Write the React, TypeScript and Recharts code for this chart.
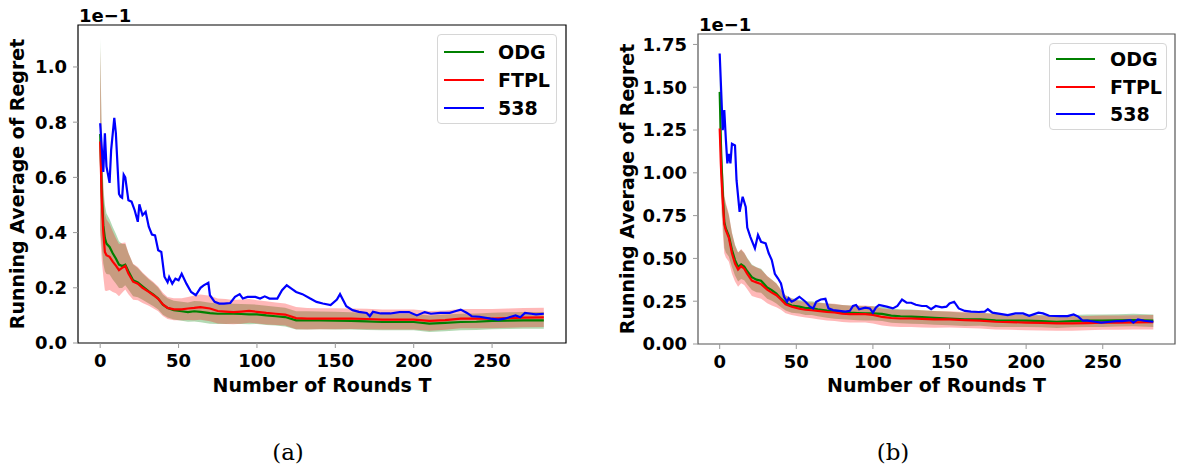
import React from 'react';
import { ComposedChart, Line, Area, XAxis, YAxis, ReferenceArea, Legend } from 'recharts';

// rounds used for the two smoothed methods (shared by both panels)
const bandRounds = [0, 1, 2, 3, 4, 6, 8, 10, 12, 14, 16, 18, 21, 24, 27, 31, 34, 37, 40, 43, 47, 52, 56, 60, 64, 70, 75, 80, 85, 90, 95, 100, 106, 112, 118, 125, 132, 140, 150, 160, 170, 180, 190, 200, 210, 220, 230, 240, 250, 260, 270, 283];

// panel (a)
const aOdg = [0.757, 0.547, 0.427, 0.38, 0.36, 0.348, 0.325, 0.306, 0.284, 0.279, 0.284, 0.26, 0.227, 0.219, 0.205, 0.187, 0.175, 0.161, 0.139, 0.127, 0.119, 0.115, 0.112, 0.115, 0.113, 0.108, 0.106, 0.106, 0.106, 0.105, 0.104, 0.104, 0.1, 0.097, 0.094, 0.082, 0.082, 0.082, 0.081, 0.08, 0.078, 0.076, 0.076, 0.076, 0.07, 0.073, 0.076, 0.077, 0.08, 0.081, 0.082, 0.082];
const aOdgSd = [0.345, 0.2, 0.14, 0.12, 0.11, 0.1, 0.095, 0.09, 0.085, 0.08, 0.075, 0.066, 0.058, 0.053, 0.048, 0.044, 0.042, 0.04, 0.037, 0.035, 0.034, 0.034, 0.035, 0.037, 0.038, 0.038, 0.037, 0.037, 0.036, 0.036, 0.036, 0.035, 0.035, 0.034, 0.034, 0.033, 0.033, 0.032, 0.032, 0.031, 0.031, 0.03, 0.03, 0.03, 0.03, 0.03, 0.03, 0.03, 0.03, 0.03, 0.03, 0.03];
const aFtpl = [0.73, 0.52, 0.4, 0.33, 0.318, 0.312, 0.295, 0.28, 0.264, 0.272, 0.279, 0.252, 0.222, 0.215, 0.2, 0.185, 0.173, 0.16, 0.14, 0.127, 0.122, 0.122, 0.125, 0.127, 0.13, 0.125, 0.116, 0.114, 0.112, 0.114, 0.116, 0.113, 0.109, 0.106, 0.103, 0.09, 0.088, 0.088, 0.088, 0.088, 0.087, 0.085, 0.085, 0.085, 0.08, 0.083, 0.088, 0.088, 0.088, 0.09, 0.092, 0.093];
const aFtplSd = [0.34, 0.22, 0.16, 0.14, 0.13, 0.12, 0.11, 0.1, 0.095, 0.09, 0.085, 0.075, 0.065, 0.06, 0.055, 0.05, 0.048, 0.045, 0.042, 0.04, 0.04, 0.04, 0.042, 0.045, 0.046, 0.046, 0.045, 0.045, 0.044, 0.044, 0.043, 0.042, 0.042, 0.041, 0.04, 0.04, 0.039, 0.038, 0.038, 0.037, 0.037, 0.036, 0.036, 0.036, 0.036, 0.035, 0.035, 0.035, 0.035, 0.035, 0.035, 0.035];
const a538Rounds = [0, 2, 3, 4, 6, 7, 9, 10, 12, 13, 14, 15, 16, 18, 20, 22, 24, 25, 27, 29, 31, 33, 35, 37, 39, 41, 43, 44, 46, 48, 50, 52, 55, 58, 61, 64, 66, 69, 70, 73, 76, 79, 83, 86, 89, 91, 94, 99, 102, 105, 108, 113, 116, 119, 122, 125, 129, 134, 138, 142, 147, 151, 153, 157, 161, 165, 170, 172, 174, 179, 185, 191, 197, 202, 207, 211, 217, 223, 227, 230, 234, 237, 242, 249, 254, 258, 262, 265, 268, 271, 275, 278, 283];
const a538 = [0.796, 0.62, 0.76, 0.64, 0.58, 0.7, 0.816, 0.76, 0.54, 0.53, 0.526, 0.61, 0.6, 0.517, 0.512, 0.481, 0.439, 0.502, 0.463, 0.475, 0.421, 0.393, 0.39, 0.336, 0.33, 0.24, 0.22, 0.239, 0.215, 0.233, 0.227, 0.251, 0.215, 0.185, 0.173, 0.2, 0.209, 0.218, 0.173, 0.149, 0.143, 0.143, 0.145, 0.167, 0.177, 0.161, 0.167, 0.167, 0.161, 0.169, 0.161, 0.161, 0.191, 0.209, 0.197, 0.185, 0.177, 0.161, 0.149, 0.143, 0.137, 0.157, 0.177, 0.133, 0.119, 0.113, 0.109, 0.097, 0.113, 0.107, 0.107, 0.112, 0.112, 0.1, 0.112, 0.106, 0.109, 0.109, 0.116, 0.121, 0.109, 0.097, 0.095, 0.088, 0.085, 0.088, 0.095, 0.1, 0.093, 0.109, 0.106, 0.104, 0.106];

// panel (b)
const bOdg = [1.473, 1.1, 0.88, 0.713, 0.675, 0.63, 0.55, 0.49, 0.45, 0.465, 0.452, 0.425, 0.39, 0.376, 0.37, 0.33, 0.315, 0.295, 0.265, 0.24, 0.225, 0.218, 0.21, 0.21, 0.203, 0.195, 0.19, 0.186, 0.183, 0.181, 0.179, 0.179, 0.176, 0.166, 0.162, 0.16, 0.157, 0.153, 0.149, 0.144, 0.144, 0.138, 0.136, 0.136, 0.134, 0.13, 0.134, 0.136, 0.136, 0.138, 0.14, 0.136];
const bOdgSd = [0.25, 0.2, 0.17, 0.15, 0.14, 0.12, 0.1, 0.09, 0.085, 0.085, 0.08, 0.078, 0.075, 0.073, 0.07, 0.066, 0.062, 0.058, 0.05, 0.045, 0.042, 0.04, 0.04, 0.04, 0.041, 0.042, 0.042, 0.042, 0.042, 0.042, 0.042, 0.042, 0.042, 0.042, 0.041, 0.041, 0.04, 0.04, 0.039, 0.039, 0.038, 0.038, 0.037, 0.037, 0.036, 0.036, 0.036, 0.036, 0.036, 0.036, 0.036, 0.036];
const bFtpl = [1.259, 1.0, 0.84, 0.7, 0.665, 0.62, 0.53, 0.47, 0.435, 0.455, 0.44, 0.41, 0.37, 0.36, 0.35, 0.318, 0.3, 0.285, 0.26, 0.232, 0.218, 0.206, 0.2, 0.197, 0.193, 0.187, 0.185, 0.178, 0.175, 0.175, 0.175, 0.17, 0.158, 0.152, 0.149, 0.149, 0.147, 0.144, 0.144, 0.14, 0.136, 0.13, 0.128, 0.125, 0.123, 0.12, 0.12, 0.122, 0.125, 0.125, 0.126, 0.127];
const bFtplSd = [0.2, 0.2, 0.19, 0.17, 0.16, 0.14, 0.12, 0.105, 0.1, 0.1, 0.095, 0.09, 0.09, 0.088, 0.085, 0.08, 0.075, 0.07, 0.06, 0.052, 0.048, 0.045, 0.045, 0.046, 0.048, 0.05, 0.05, 0.05, 0.05, 0.05, 0.05, 0.05, 0.05, 0.05, 0.05, 0.05, 0.05, 0.049, 0.048, 0.047, 0.046, 0.045, 0.045, 0.044, 0.044, 0.043, 0.043, 0.042, 0.042, 0.042, 0.042, 0.042];
const b538Rounds = [0, 2, 3, 4, 5, 6, 7, 8, 10, 11, 13, 15, 17, 18, 20, 23, 25, 27, 30, 32, 34, 36, 38, 40, 42, 44, 45, 47, 49, 52, 56, 59, 61, 63, 66, 69, 71, 74, 78, 82, 85, 87, 89, 91, 95, 98, 100, 102, 104, 109, 113, 116, 119, 122, 125, 128, 132, 135, 138, 141, 145, 148, 150, 153, 156, 160, 164, 169, 173, 175, 178, 184, 188, 193, 198, 202, 208, 211, 215, 222, 227, 231, 234, 237, 240, 245, 249, 255, 259, 263, 268, 270, 273, 277, 283];
const b538 = [1.697, 1.249, 1.366, 1.2, 1.055, 1.11, 1.055, 1.17, 1.16, 0.957, 0.772, 0.86, 0.8, 0.68, 0.626, 0.559, 0.637, 0.597, 0.588, 0.53, 0.49, 0.41, 0.384, 0.354, 0.276, 0.247, 0.267, 0.247, 0.257, 0.276, 0.247, 0.218, 0.208, 0.247, 0.26, 0.264, 0.208, 0.198, 0.194, 0.189, 0.194, 0.222, 0.228, 0.203, 0.212, 0.208, 0.183, 0.214, 0.228, 0.218, 0.208, 0.222, 0.26, 0.241, 0.241, 0.229, 0.222, 0.222, 0.203, 0.222, 0.214, 0.218, 0.237, 0.247, 0.208, 0.193, 0.189, 0.187, 0.189, 0.203, 0.183, 0.175, 0.169, 0.179, 0.179, 0.165, 0.183, 0.179, 0.165, 0.163, 0.163, 0.173, 0.16, 0.136, 0.136, 0.13, 0.125, 0.13, 0.134, 0.134, 0.14, 0.125, 0.144, 0.136, 0.13];

const seriesNames = ['ODG', 'FTPL', '538'];
const roundTicks = [0, 50, 100, 150, 200, 250];
const regretTicksA = [0, 0.2, 0.4, 0.6, 0.8, 1.0];
const regretTicksB = [0, 0.25, 0.5, 0.75, 1.0, 1.25, 1.5, 1.75];

const COLORS = ['#008000', '#ff0000', '#0000ff'];
const FONT = '"DejaVu Sans", Verdana, sans-serif';
const X_DOMAIN: [number, number] = [-14.15, 297.15];

const toLine = (xs: number[], ys: number[]) => xs.map((x, i) => ({ x, y: ys[i] }));
const toBand = (xs: number[], ys: number[], sd: number[]) =>
  xs.map((x, i) => ({ x, band: [ys[i] - sd[i], ys[i] + sd[i]] }));

const YTitles = ({ tx, ty, ox, oy }: any) => (
  <g>
    <text x={tx} y={ty} transform={`rotate(-90, ${tx}, ${ty})`} textAnchor="middle" dominantBaseline="central"
      fontSize={19} fontWeight="bold" fill="#000">Running Average of Regret</text>
    <text x={ox} y={oy} textAnchor="start" dominantBaseline="central" fontSize={18} fontWeight="bold" fill="#000">1e−1</text>
  </g>
);

const XTitle = ({ tx, ty }: any) => (
  <text x={tx} y={ty} textAnchor="middle" dominantBaseline="central" fontSize={19} fontWeight="bold" fill="#000">
    Number of Rounds T
  </text>
);

const LegendBox = ({ lineLen, textX, rows }: { lineLen: number; textX: number; rows: number[] }) => (
  <div style={{
    position: 'relative', width: '100%', height: '100%', boxSizing: 'border-box',
    border: '1px solid #d6d6d6', borderRadius: 4, background: 'rgba(255,255,255,0.85)',
    fontFamily: FONT, fontWeight: 'bold', color: '#000'
  }}>
    {seriesNames.map((name, i) => (
      <React.Fragment key={name}>
        <div style={{ position: 'absolute', left: 6, top: rows[i] - 1, width: lineLen, height: 2, background: COLORS[i] }} />
        <div style={{ position: 'absolute', left: textX, top: rows[i], transform: 'translateY(-50%)', fontSize: 19, lineHeight: 1 }}>{name}</div>
      </React.Fragment>
    ))}
  </div>
);

type PanelProps = {
  left: number; width: number; top: number; yWidth: number; xHeight: number; right: number;
  yMax: number; yTicks: number[]; digits: number; frame: string;
  odg: number[]; odgSd: number[]; ftpl: number[]; ftplSd: number[]; r538: number[]; v538: number[];
  yTitleX: number; offsetY: number; xTitleY: number;
  legend: { left: number; top: number; width: number; height: number; lineLen: number; textX: number; rows: number[] };
};

const Panel = (p: PanelProps) => {
  const plotBottom = 400 - p.xHeight;
  const plotCenterY = (p.top + plotBottom) / 2;
  const plotCenterX = (p.yWidth + p.width - p.right) / 2;
  return (
    <div style={{ position: 'absolute', left: p.left, top: 0 }}>
      <ComposedChart width={p.width} height={400} margin={{ top: p.top, right: p.right, bottom: 0, left: 0 }}>
        <XAxis dataKey="x" type="number" domain={X_DOMAIN} allowDataOverflow ticks={roundTicks} interval={0}
          height={p.xHeight} axisLine={false} tickLine={{ stroke: '#999' }} tickSize={5} tickMargin={6}
          tick={{ fill: '#000', fontSize: 18, fontWeight: 'bold' }}
          label={<XTitle tx={plotCenterX} ty={p.xTitleY} />} />
        <YAxis type="number" domain={[0, p.yMax]} allowDataOverflow ticks={p.yTicks} interval={0} width={p.yWidth}
          axisLine={false} tickLine={{ stroke: '#999' }} tickSize={5} tickMargin={6}
          tick={{ fill: '#000', fontSize: 18, fontWeight: 'bold' }}
          tickFormatter={(v: number) => v.toFixed(p.digits)}
          label={<YTitles tx={p.yTitleX} ty={plotCenterY} ox={p.yWidth + 1} oy={p.offsetY} />} />
        <Area data={toBand(bandRounds, p.odg, p.odgSd)} dataKey="band" type="linear" stroke="none"
          fill={COLORS[0]} fillOpacity={0.3} legendType="none" isAnimationActive={false} />
        <Area data={toBand(bandRounds, p.ftpl, p.ftplSd)} dataKey="band" type="linear" stroke="none"
          fill={COLORS[1]} fillOpacity={0.28} legendType="none" isAnimationActive={false} />
        <Line data={toLine(bandRounds, p.odg)} dataKey="y" name={seriesNames[0]} type="linear" stroke={COLORS[0]}
          strokeWidth={2.2} dot={false} isAnimationActive={false} />
        <Line data={toLine(bandRounds, p.ftpl)} dataKey="y" name={seriesNames[1]} type="linear" stroke={COLORS[1]}
          strokeWidth={2.2} dot={false} isAnimationActive={false} />
        <Line data={toLine(p.r538, p.v538)} dataKey="y" name={seriesNames[2]} type="linear" stroke={COLORS[2]}
          strokeWidth={2.2} dot={false} isAnimationActive={false} />
        <ReferenceArea x1={X_DOMAIN[0]} x2={X_DOMAIN[1]} y1={0} y2={p.yMax} fill="none" stroke={p.frame}
          strokeWidth={1.2} ifOverflow="visible" />
        <Legend layout="vertical" align="center" verticalAlign="middle"
          wrapperStyle={{ left: p.legend.left, top: p.legend.top, width: p.legend.width, height: p.legend.height }}
          content={() => <LegendBox lineLen={p.legend.lineLen} textX={p.legend.textX} rows={p.legend.rows} />} />
      </ComposedChart>
    </div>
  );
};

const caption: React.CSSProperties = {
  position: 'absolute', top: 452, transform: 'translate(-50%, -50%)',
  fontFamily: '"DejaVu Serif", "Liberation Serif", serif', fontWeight: 'normal', fontSize: 23, color: '#000'
};

export default function App() {
  return (
    <div style={{ position: 'relative', width: 1179, height: 470, background: '#fff', fontFamily: FONT, fontWeight: 'bold' }}>
      <style>{'body{margin:0}'}</style>
      <Panel left={0} width={580} top={25} right={14} yWidth={78} xHeight={57}
        yMax={1.152} yTicks={regretTicksA} digits={1} frame="#000"
        odg={aOdg} odgSd={aOdgSd} ftpl={aFtpl} ftplSd={aFtplSd} r538={a538Rounds} v538={a538}
        yTitleX={17} offsetY={15} xTitleY={385}
        legend={{ left: 437, top: 34, width: 120, height: 90, lineLen: 40, textX: 60, rows: [16.7, 44.7, 72.7] }} />
      <Panel left={590} width={589} top={34} right={4} yWidth={108} xHeight={56}
        yMax={1.811} yTicks={regretTicksB} digits={2} frame="#555"
        odg={bOdg} odgSd={bOdgSd} ftpl={bFtpl} ftplSd={bFtplSd} r538={b538Rounds} v538={b538}
        yTitleX={36.5} offsetY={24} xTitleY={385}
        legend={{ left: 459, top: 43, width: 118, height: 87, lineLen: 39, textX: 60, rows: [15.3, 43, 70.3] }} />
      <div style={{ ...caption, left: 288 }}>(a)</div>
      <div style={{ ...caption, left: 893 }}>(b)</div>
    </div>
  );
}
